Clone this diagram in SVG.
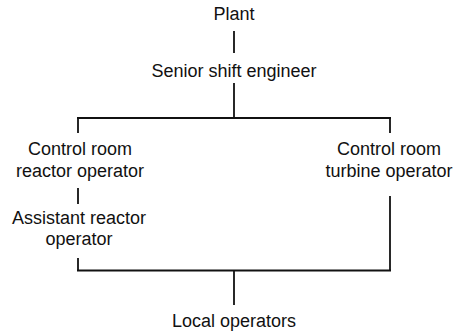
<svg xmlns="http://www.w3.org/2000/svg" width="456" height="336" viewBox="0 0 456 336">
<style>
text{font-family:"Liberation Sans",Arial,sans-serif;font-size:18px;fill:#111;text-anchor:middle}
.c line{stroke:#111;stroke-width:1.8;stroke-linecap:butt}
</style>
<rect width="456" height="336" fill="#fff"/>
<g class="c" id="connectors">
<line x1="234" y1="31" x2="234" y2="53"/>
<line x1="234" y1="83" x2="234" y2="118"/>
<line x1="77" y1="118" x2="391" y2="118"/>
<line x1="78" y1="117" x2="78" y2="133"/>
<line x1="390" y1="117" x2="390" y2="133"/>
<line x1="78" y1="188" x2="78" y2="204"/>
<line x1="78" y1="258" x2="78" y2="271"/>
<line x1="390" y1="196" x2="390" y2="271"/>
<line x1="77" y1="270.5" x2="391" y2="270.5"/>
<line x1="234" y1="270" x2="234" y2="305"/>
</g>
<g id="plant"><text x="234" y="20">Plant</text></g>
<g id="senior"><text x="234" y="77">Senior shift engineer</text></g>
<g id="cr-reactor"><text x="80" y="155">Control room</text><text x="80" y="177">reactor operator</text></g>
<g id="cr-turbine"><text x="389" y="155">Control room</text><text x="389" y="177">turbine operator</text></g>
<g id="assistant"><text x="79" y="224">Assistant reactor</text><text x="79" y="245">operator</text></g>
<g id="local"><text x="234" y="327">Local operators</text></g>
</svg>
